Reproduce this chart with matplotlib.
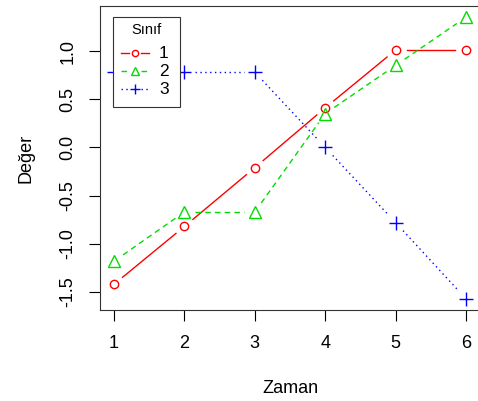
import matplotlib
matplotlib.use("Agg")
import matplotlib.pyplot as plt
from matplotlib.patches import Rectangle
import numpy as np

plt.rcParams['font.family'] = ['Liberation Sans', 'DejaVu Sans']

# veriler
zaman = [1, 2, 3, 4, 5, 6]
sinif1 = [-1.42, -0.82, -0.21, 0.41, 1.01, 1.01]
sinif2 = [-1.18, -0.67, -0.67, 0.35, 0.85, 1.35]
sinif3 = [0.78, 0.78, 0.78, 0.0, -0.78, -1.57]
etiketler = ['1', '2', '3']

W, H = 478, 401
AX_L, AX_T, AX_W, AX_H = 100, 6, 380, 304
XLIM = (0.8, 6.2)
YLIM = (-1.687, 1.467)

fig = plt.figure(figsize=(W / 100, H / 100), dpi=100)
ax = fig.add_axes([AX_L / W, (H - AX_T - AX_H) / H, AX_W / W, AX_H / H])
ax.set_xlim(*XLIM)
ax.set_ylim(*YLIM)

# piksel / veri birimi
sx = AX_W / (XLIM[1] - XLIM[0])
sy = AX_H / (YLIM[1] - YLIM[0])

stiller = [
    dict(color='#ff0000', ls='-', marker='o', ms=6),
    dict(color='#00dd00', ls=(0, (4, 3)), marker='^', ms=8.5),
    dict(color='#0000ff', ls=(0, (1, 2.5)), marker='+', ms=9.5),
]
GAP = 11  # piksel


def type_b(ax, x, y, st):
    # R'deki type="b": noktalar arasinda bosluklu cizgiler
    p = np.column_stack([np.array(x) * sx, np.array(y) * sy])
    for p0, p1 in zip(p[:-1], p[1:]):
        d = p1 - p0
        L = np.hypot(*d)
        if L <= 2 * GAP:
            continue
        u = d / L
        a = p0 + u * GAP
        b = p1 - u * GAP
        ax.plot([a[0] / sx, b[0] / sx], [a[1] / sy, b[1] / sy],
                color=st['color'], ls=st['ls'], lw=1)
    ax.plot(x, y, ls='none', marker=st['marker'], ms=st['ms'], mfc='none',
            mec=st['color'], mew=1)


for seri, st in zip([sinif1, sinif2, sinif3], stiller):
    type_b(ax, zaman, seri, st)

ax.set_xticks(zaman)
ax.set_yticks([-1.5, -1.0, -0.5, 0.0, 0.5, 1.0])
ax.set_yticklabels(['-1.5', '-1.0', '-0.5', '0.0', '0.5', '1.0'],
                   rotation=90, va='center')
ax.tick_params(labelsize=13, length=8, width=0.8, pad=10)
ax.tick_params(axis='y', pad=9)
for s in ax.spines.values():
    s.set_linewidth(0.8)
    s.set_color('#333333')

ax.set_xlabel('Zaman', fontsize=13, labelpad=20)
ax.set_ylabel('Değer', fontsize=13, labelpad=18)


# lejant (elle, R legend gibi)
def fp(x, y):
    return x / W, 1 - y / H


tf = fig.transFigure
x0, y0 = fp(113, 107)
x1, y1 = fp(180, 17)
fig.add_artist(Rectangle((x0, y0), x1 - x0, y1 - y0, transform=tf,
                         fill=True, fc='white', ec='#333333', lw=0.8))
fig.text(*fp(146.5, 30), 'Sınıf', fontsize=10.5, ha='center', va='center')
for i, (st, lab) in enumerate(zip(stiller, etiketler)):
    yy = 53 + 18 * i
    for xa, xb in [(121, 129), (141, 149)]:
        fig.add_artist(plt.Line2D([fp(xa, yy)[0], fp(xb, yy)[0]],
                                  [fp(xa, yy)[1]] * 2, transform=tf,
                                  color=st['color'], ls=st['ls'], lw=1))
    fig.add_artist(plt.Line2D([fp(135, yy)[0]], [fp(135, yy)[1]], transform=tf,
                              ls='none', marker=st['marker'], ms=st['ms'] * 0.75,
                              mfc='none', mec=st['color'], mew=1))
    fig.text(*fp(159, yy), lab, fontsize=12.5, ha='left', va='center')

fig.savefig('out.png', dpi=100)
